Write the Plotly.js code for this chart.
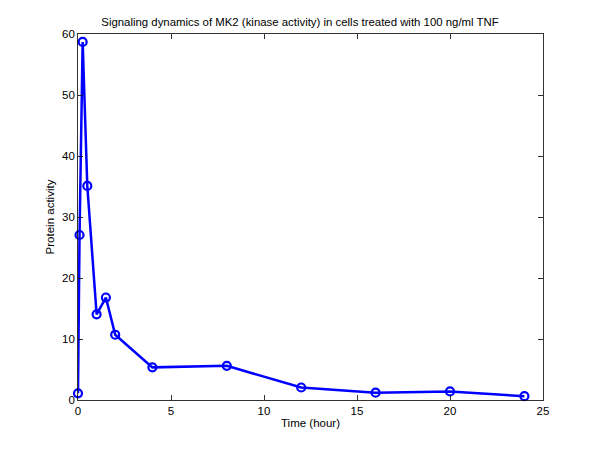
<!DOCTYPE html>
<html>
<head>
<meta charset="utf-8">
<script src="https://cdn.plot.ly/plotly-3.0.1.min.js"></script>
<style>html,body{margin:0;padding:0;background:#fff;}#chart{width:600px;height:451px;}</style>
</head>
<body>
<div id="chart"></div>
<script>
var timeHours = [0, 0.083, 0.25, 0.5, 1, 1.5, 2, 4, 8, 12, 16, 20, 24];
var activity = [1.1, 27.05, 58.7, 35.1, 14.05, 16.8, 10.7, 5.35, 5.6, 2.05, 1.2, 1.4, 0.62];
var xTicks = [0, 5, 10, 15, 20, 25];
var yTicks = [0, 10, 20, 30, 40, 50, 60];

var trace = {
  x: timeHours,
  y: activity,
  type: 'scatter',
  mode: 'lines+markers',
  cliponaxis: false,
  line: {color: '#0000ff', width: 2.5},
  marker: {symbol: 'circle-open', size: 8, color: '#0000ff', line: {width: 2.2, color: '#0000ff'}},
  hoverinfo: 'x+y'
};

var axisFont = {family: 'Liberation Sans, Arial, sans-serif', size: 11.5, color: '#000'};

var layout = {
  width: 600,
  height: 451,
  margin: {l: 78, r: 57, t: 34, b: 51},
  paper_bgcolor: '#fff',
  plot_bgcolor: '#fff',
  showlegend: false,
  title: {text: 'Signaling dynamics of MK2 (kinase activity) in cells treated with 100 ng/ml TNF',
          font: {family: 'Liberation Sans, Arial, sans-serif', size: 11.4, color: '#000'},
          x: 0.5, xanchor: 'center', y: 0.952, yanchor: 'middle'},
  xaxis: {
    range: [0, 25],
    tickvals: xTicks,
    ticktext: xTicks.map(String),
    ticks: 'inside', ticklen: 5, tickcolor: '#000', tickwidth: 0.8,
    showline: true, linecolor: '#000', linewidth: 0.8, mirror: 'ticks',
    showgrid: false, zeroline: false,
    tickfont: axisFont,
    title: {text: 'Time (hour)', font: axisFont, standoff: 3}
  },
  yaxis: {
    range: [0, 60],
    tickvals: yTicks,
    ticktext: yTicks.map(String),
    ticks: 'inside', ticklen: 5, tickcolor: '#000', tickwidth: 0.8,
    showline: true, linecolor: '#000', linewidth: 0.8, mirror: 'ticks',
    showgrid: false, zeroline: false,
    tickfont: axisFont,
    title: {text: 'Protein activity', font: axisFont, standoff: 4}
  }
};

Plotly.newPlot('chart', [trace], layout, {staticPlot: true, displayModeBar: false});
</script>
</body>
</html>
